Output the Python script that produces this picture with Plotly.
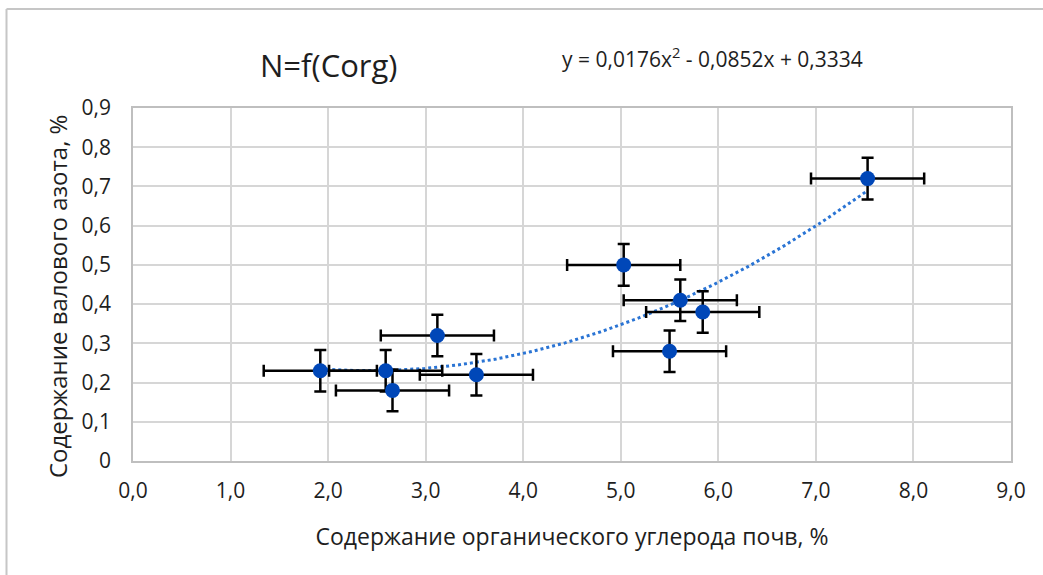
import numpy as np
import plotly.graph_objects as go

# Soil organic carbon (%) vs total nitrogen (%)
corg = [1.92, 2.59, 2.66, 3.12, 3.52, 5.03, 5.50, 5.61, 5.84, 7.53]
nitrogen = [0.23, 0.23, 0.18, 0.32, 0.22, 0.50, 0.28, 0.41, 0.38, 0.72]
corg_err = [0.58] * len(corg)
nitrogen_err = [0.053] * len(corg)

# Quadratic trend coefficients (a*x^2 + b*x + c)
trend_coef = [0.0176, -0.0852, 0.3334]

x_ticks = [0, 1, 2, 3, 4, 5, 6, 7, 8, 9]
x_ticktext = ["0,0", "1,0", "2,0", "3,0", "4,0", "5,0", "6,0", "7,0", "8,0", "9,0"]
y_ticks = [0, 0.1, 0.2, 0.3, 0.4, 0.5, 0.6, 0.7, 0.8, 0.9]
y_ticktext = ["0", "0,1", "0,2", "0,3", "0,4", "0,5", "0,6", "0,7", "0,8", "0,9"]

FONT = "Open Sans"
TEXT = "#1e1e1e"
W, H = 1043, 575
L, R, T, B = 133, 32, 108, 114
pw, ph = W - L - R, H - T - B


def px_to_paper(px, py):
    return (px - L) / pw, (H - B - py) / ph


xs = np.linspace(min(corg), max(corg), 200)
ys = np.polyval(trend_coef, xs)

fig = go.Figure()
fig.add_trace(go.Scatter(
    x=xs, y=ys, mode="lines",
    line=dict(color="#2a74d4", width=3, dash="dot"),
    hoverinfo="skip", showlegend=False,
))
fig.add_trace(go.Scatter(
    x=corg, y=nitrogen, mode="markers",
    marker=dict(color="#0047b8", size=15),
    error_x=dict(type="data", array=corg_err, color="black", thickness=2.5, width=6),
    error_y=dict(type="data", array=nitrogen_err, color="black", thickness=2.5, width=6),
    showlegend=False,
))

# chart frame
x0, y0 = px_to_paper(6.5, 9)
x1, _ = px_to_paper(1060, 0)
_, y1 = px_to_paper(0, 600)
fig.add_shape(type="line", xref="paper", yref="paper", x0=x0, y0=y0, x1=x1, y1=y0,
              line=dict(color="#c6c6c6", width=2))
fig.add_shape(type="line", xref="paper", yref="paper", x0=x0, y0=y0, x1=x0, y1=y1,
              line=dict(color="#c6c6c6", width=2))

tx, ty = px_to_paper(328, 65)
fig.add_annotation(text="N=f(Corg)", xref="paper", yref="paper", x=tx, y=ty,
                   xanchor="center", yanchor="middle", showarrow=False,
                   font=dict(family=FONT, size=31, color=TEXT))
ex, ey = px_to_paper(712, 58)
fig.add_annotation(text="y = 0,0176x<sup>2</sup> - 0,0852x + 0,3334", xref="paper", yref="paper",
                   x=ex, y=ey, xanchor="center", yanchor="middle", showarrow=False,
                   font=dict(family=FONT, size=21, color=TEXT))

# vertical axis title
yx, yy = px_to_paper(57, 297)
fig.add_annotation(text="Содержание валового азота, %", xref="paper", yref="paper",
                   x=yx, y=yy, xanchor="center", yanchor="middle", textangle=-90,
                   showarrow=False, font=dict(family=FONT, size=24, color=TEXT))

axis_common = dict(
    showgrid=True, gridcolor="#d6d6d6", gridwidth=1.5,
    showline=True, linecolor="#bfbfbf", linewidth=1.5, mirror=True,
    zeroline=False, ticks="",
    tickfont=dict(family=FONT, size=21, color=TEXT),
)
fig.update_xaxes(range=[0, 9], tickvals=x_ticks, ticktext=x_ticktext,
                 title=dict(text="Содержание органического углерода почв, %",
                            font=dict(family=FONT, size=23, color=TEXT), standoff=26),
                 ticklabelstandoff=10, **axis_common)
fig.update_yaxes(range=[0, 0.9], tickvals=y_ticks, ticktext=y_ticktext,
                 ticklabelstandoff=16, **axis_common)

fig.update_layout(
    width=W, height=H,
    margin=dict(l=L, r=R, t=T, b=B),
    paper_bgcolor="white", plot_bgcolor="white",
    font=dict(family=FONT),
)

fig.write_html("out.html")
